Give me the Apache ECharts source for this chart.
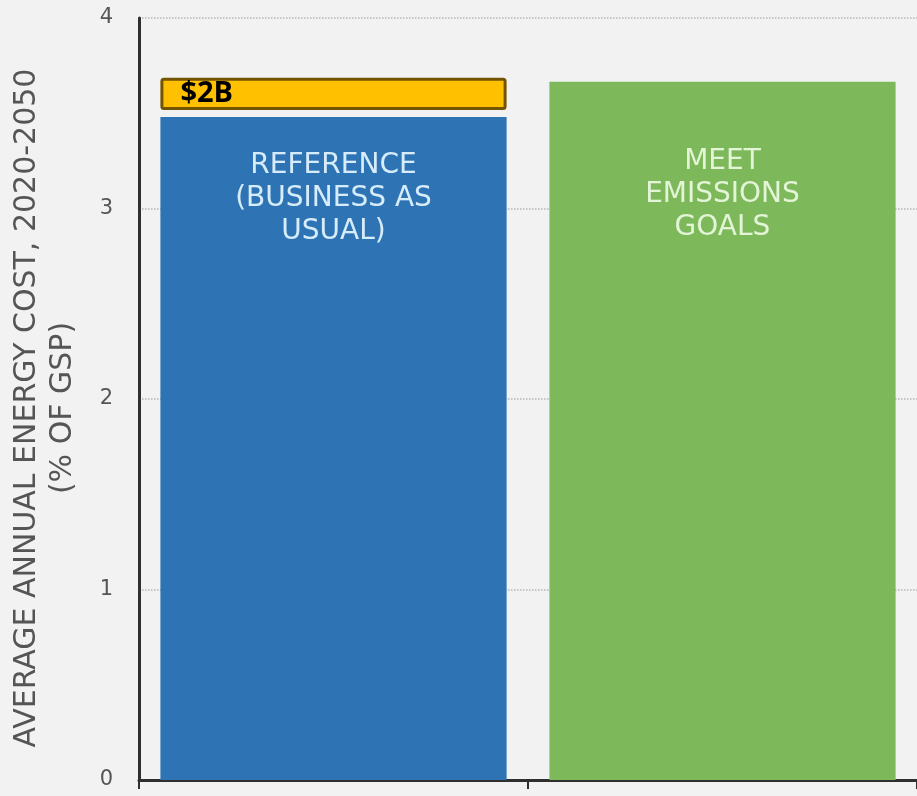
<!DOCTYPE html>
<html>
<head>
<meta charset="utf-8">
<script src="https://cdn.jsdelivr.net/npm/echarts@6/dist/echarts.min.js"></script>
<style>
  html, body { margin: 0; padding: 0; background: #f2f2f2; }
  #chart { width: 917px; height: 796px; }
</style>
</head>
<body>
<div id="chart"></div>
<script>
// ---- data ----
const categories = ['REFERENCE\n(BUSINESS AS\nUSUAL)', 'MEET\nEMISSIONS\nGOALS'];
const energyCost = [3.48, 3.665];          // % of GSP
const premiumGap = [0.037, '-'];           // visual spacer between bar and premium box
const premiumCost = [0.17, '-'];           // extra cost to meet goals
const premiumLabel = '$2B';
const yTicks = [0, 1, 2, 3, 4];
const yTitle = 'AVERAGE ANNUAL ENERGY COST, 2020-2050\n(% OF GSP)';

// ---- styles ----
const barColors = ['#2e74b5', '#7db95b'];
const barTextColors = ['#d7ecfa', '#e3f5d6'];
const barLabelDistance = [32, 63];

const chart = echarts.init(document.getElementById('chart'), null, { renderer: 'canvas' });

chart.setOption({
  backgroundColor: '#f2f2f2',
  animation: false,
  grid: { left: 139, top: 18, width: 782, height: 762, containLabel: false },
  xAxis: {
    type: 'category',
    data: categories,
    boundaryGap: true,
    axisLine: { show: true, lineStyle: { color: '#2f2f2f', width: 3 } },
    axisTick: { show: true, alignWithLabel: false, length: 9, lineStyle: { color: '#2f2f2f', width: 2 } },
    axisLabel: { show: false },
    splitLine: { show: false }
  },
  yAxis: {
    type: 'value',
    min: yTicks[0],
    max: yTicks[yTicks.length - 1],
    interval: 1,
    name: yTitle,
    nameLocation: 'middle',
    nameGap: 58,
    nameRotate: 90,
    nameTextStyle: {
      fontFamily: 'DejaVu Sans',
      fontSize: 30,
      lineHeight: 36,
      color: '#555555',
      align: 'center',
      padding: [0, 18, 0, 0]
    },
    axisLine: { show: true, lineStyle: { color: '#2f2f2f', width: 3 } },
    axisTick: { show: false },
    axisLabel: {
      margin: 26,
      fontFamily: 'DejaVu Sans',
      fontSize: 21,
      color: '#555555'
    },
    splitLine: { show: true, lineStyle: { type: 'dotted', color: '#b5b5b5', width: 1.5 } }
  },
  series: [
    {
      name: 'Energy cost',
      type: 'bar',
      stack: 'cost',
      barCategoryGap: '11%',
      data: energyCost.map((v, i) => ({
        value: v,
        itemStyle: { color: barColors[i] },
        label: {
          show: true,
          position: 'insideTop',
          distance: barLabelDistance[i],
          formatter: '{b}',
          fontFamily: 'DejaVu Sans',
          fontSize: 28,
          lineHeight: 33,
          color: barTextColors[i],
          align: 'center'
        }
      }))
    },
    {
      name: 'gap',
      type: 'bar',
      stack: 'cost',
      silent: true,
      itemStyle: { color: 'rgba(0,0,0,0)' },
      data: premiumGap
    },
    {
      name: 'Premium',
      type: 'bar',
      stack: 'cost',
      itemStyle: { color: '#ffc000', borderColor: '#735400', borderWidth: 3, borderRadius: 2 },
      label: {
        show: true,
        position: 'insideLeft',
        distance: 20,
        formatter: premiumLabel,
        fontFamily: 'Open Sans',
        fontWeight: 'bold',
        fontSize: 29,
        color: '#000000'
      },
      data: premiumCost
    }
  ]
});
</script>
</body>
</html>
